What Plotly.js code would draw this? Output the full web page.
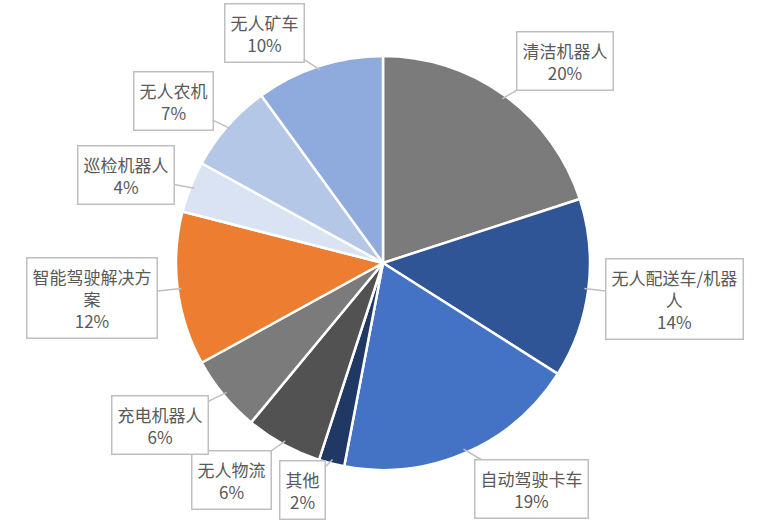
<!DOCTYPE html>
<html>
<head>
<meta charset="utf-8">
<script src="https://cdn.plot.ly/plotly-3.0.1.min.js"></script>
<style>body{margin:0;background:#fff}#chart{width:766px;height:529px}</style>
</head>
<body>
<div id="chart"></div>
<script>
// data, clockwise from 12 o'clock
let labels = ['清洁机器人', '无人配送车/机器人', '自动驾驶卡车', '其他', '无人物流', '充电机器人', '智能驾驶解决方案', '巡检机器人', '无人农机', '无人矿车'];
let shares = [20, 14, 19, 2, 6, 6, 12, 4, 7, 10];
let boxText = ['清洁机器人', '无人配送车/机器<br>人', '自动驾驶卡车', '其他', '无人物流', '充电机器人', '智能驾驶解决方<br>案', '巡检机器人', '无人农机', '无人矿车'];
let colors = ['#7b7b7b', '#2f5597', '#4472c4', '#203864', '#525252', '#7b7b7b', '#ed7d31', '#dae3f3', '#b4c7e7', '#8faadc'];

// callout box centres (px) in the same order
let boxX = [565, 674, 531, 302, 231, 160, 92, 126, 173, 264];
let boxY = [61, 299, 489, 490, 480, 425, 298, 175, 101, 33];

let W = 766, H = 529;
let cx = 383, cy = 263, R = 207;

let pie = {
    type: 'pie',
    values: shares,
    labels: labels,
    sort: false,
    direction: 'clockwise',
    rotation: 0,
    textinfo: 'none',
    hoverinfo: 'label+percent',
    marker: {colors: colors, line: {color: '#ffffff', width: 2.5}},
    domain: {x: [(cx - R) / W, (cx + R) / W], y: [(H - cy - R) / H, (H - cy + R) / H]},
    showlegend: false
};

let total = shares.reduce((a, b) => a + b, 0);
let annotations = [];
let cum = 0;
shares.forEach((v, i) => {
    let mid = (cum + v / 2) / total * 2 * Math.PI;
    cum += v;
    let tx = cx + R * 0.98 * Math.sin(mid);
    let ty = cy - R * 0.98 * Math.cos(mid);
    annotations.push({
        xref: 'paper', yref: 'paper',
        x: tx / W, y: 1 - ty / H,
        ax: boxX[i] - tx, ay: boxY[i] - ty,
        text: boxText[i] + '<br>' + Math.round(v / total * 100) + '%',
        showarrow: true, arrowhead: 0, arrowwidth: 1.5, arrowcolor: '#bfbfbf',
        bordercolor: '#bfbfbf', borderwidth: 1.5, borderpad: 5, bgcolor: '#ffffff',
        font: {family: 'Noto Sans CJK SC, sans-serif', size: 17, color: '#595959'}
    });
});

let layout = {
    width: W, height: H,
    margin: {l: 0, r: 0, t: 0, b: 0},
    paper_bgcolor: '#ffffff',
    annotations: annotations
};

Plotly.newPlot('chart', [pie], layout, {displayModeBar: false});
</script>
</body>
</html>
